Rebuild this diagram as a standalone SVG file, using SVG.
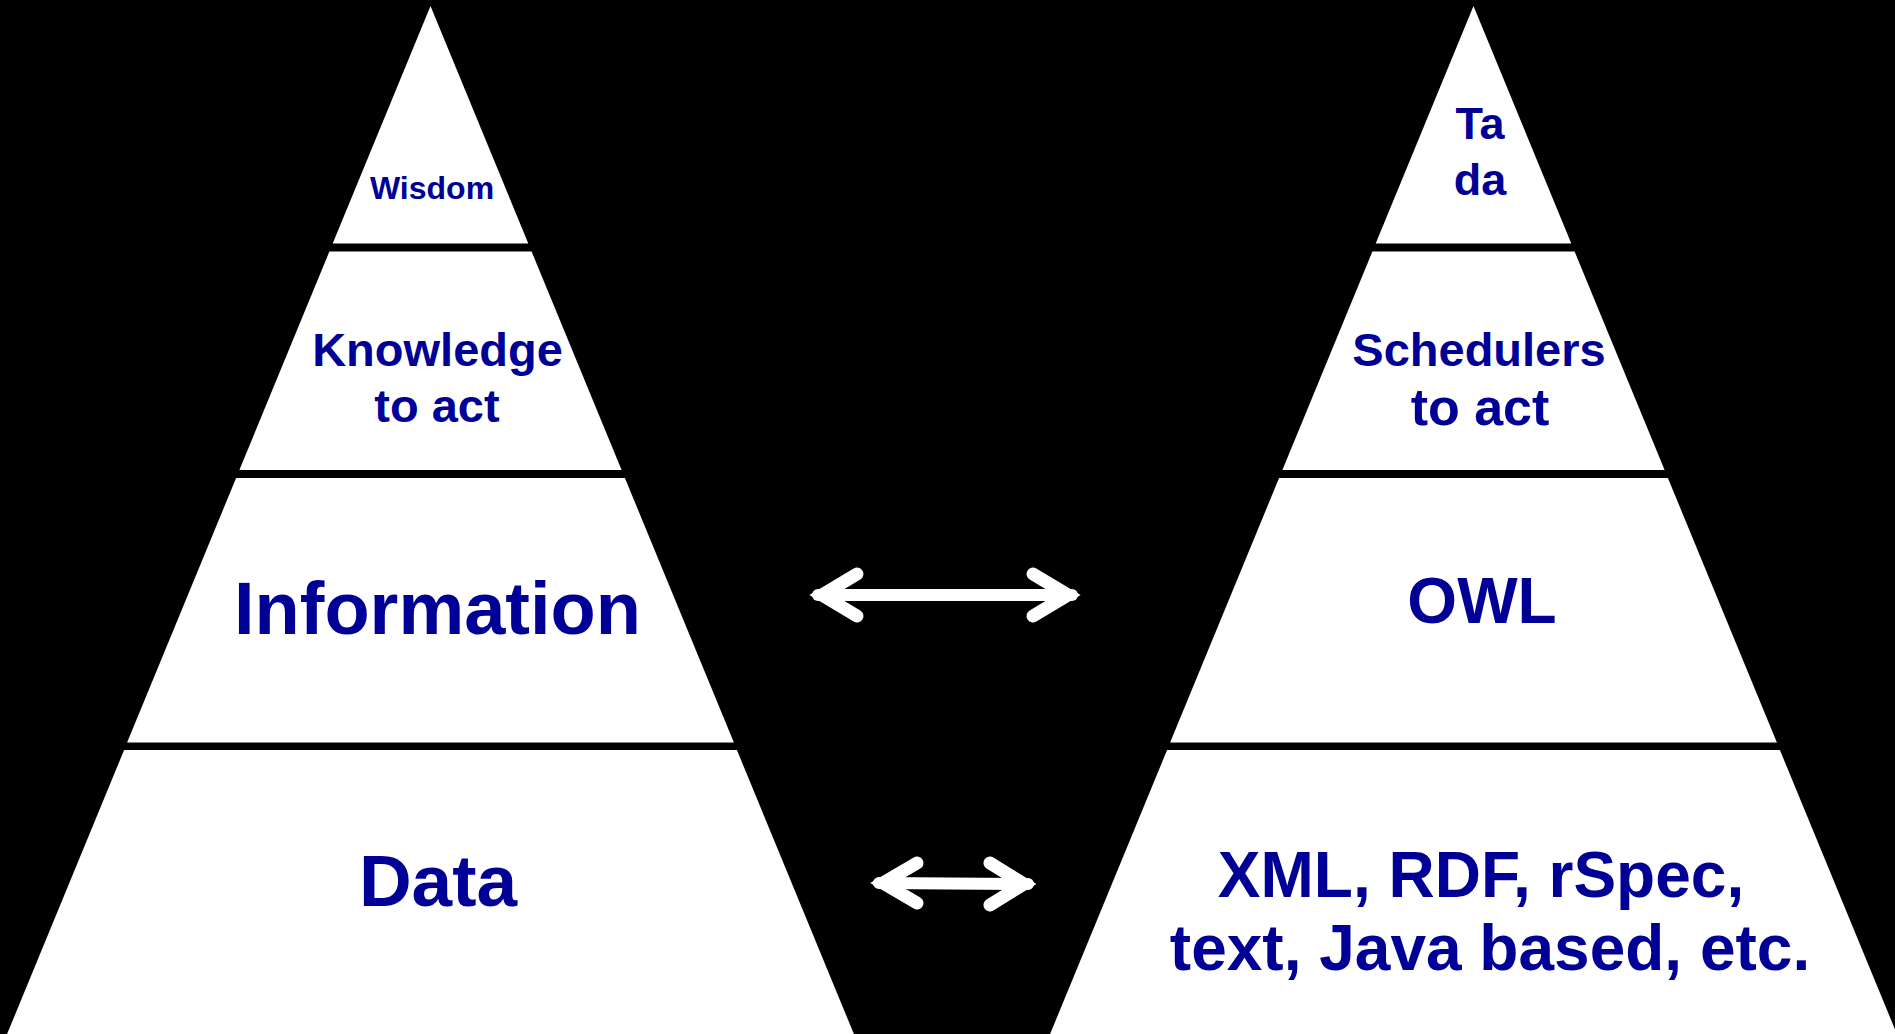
<svg xmlns="http://www.w3.org/2000/svg" width="1895" height="1034" viewBox="0 0 1895 1034">
  <style>
    .tier { fill: #ffffff; }
    .lbl { fill: #000096; font-family: "Liberation Sans", Arial, sans-serif; font-weight: bold; text-anchor: middle; }
    .arrow { fill: none; stroke: #ffffff; stroke-linecap: round; stroke-linejoin: miter; stroke-miterlimit: 6; }
  </style>
  <rect x="0" y="0" width="1895" height="1034" fill="#000000"/>

  <!-- Left pyramid: DIKW hierarchy -->
  <g id="wisdom">
    <polygon class="tier" points="430.5,6 528.3,243.5 332.7,243.5"/>
    <text class="lbl" x="432" y="199" font-size="32">Wisdom</text>
  </g>
  <g id="knowledge">
    <polygon class="tier" points="329.4,251.5 531.6,251.5 621.6,470 239.4,470"/>
    <text class="lbl" x="437.5" y="366" font-size="47">Knowledge</text>
    <text class="lbl" x="437" y="422" font-size="47">to act</text>
  </g>
  <g id="information">
    <polygon class="tier" points="236.1,478 624.9,478 733.9,742.5 127.1,742.5"/>
    <text class="lbl" x="437.5" y="634" font-size="74">Information</text>
  </g>
  <g id="data">
    <polygon class="tier" points="124.1,750 736.9,750 853.9,1034 7.1,1034"/>
    <text class="lbl" x="438" y="906" font-size="73">Data</text>
  </g>

  <!-- Right pyramid: technology stack -->
  <g id="tada">
    <polygon class="tier" points="1473.5,6 1571.3,243.5 1375.7,243.5"/>
    <text class="lbl" x="1480" y="139" font-size="45">Ta</text>
    <text class="lbl" x="1480" y="195" font-size="45">da</text>
  </g>
  <g id="schedulers">
    <polygon class="tier" points="1372.4,251.5 1574.6,251.5 1664.6,470 1282.4,470"/>
    <text class="lbl" x="1479" y="366" font-size="47">Schedulers</text>
    <text class="lbl" x="1480" y="425" font-size="52">to act</text>
  </g>
  <g id="owl">
    <polygon class="tier" points="1279.1,478 1667.9,478 1776.9,742.5 1170.1,742.5"/>
    <text class="lbl" x="1482" y="623" font-size="64">OWL</text>
  </g>
  <g id="formats">
    <polygon class="tier" points="1167.1,750 1779.9,750 1896.9,1034 1050.1,1034"/>
    <text class="lbl" x="1481" y="897" font-size="64">XML, RDF, rSpec,</text>
    <text class="lbl" x="1490" y="970" font-size="64">text, Java based, etc.</text>
  </g>

  <!-- Double-headed connectors between the tiers -->
  <g id="connectors">
    <g id="info-owl">
      <line class="arrow" x1="818" y1="595" x2="1072" y2="595" stroke-width="12" stroke-linecap="butt"/>
      <path class="arrow" d="M857,574 L822,595 L857,616" stroke-width="13"/>
      <path class="arrow" d="M1033,574 L1068,595 L1033,616" stroke-width="13"/>
    </g>
    <g id="data-formats">
      <line class="arrow" x1="879" y1="883" x2="1028" y2="884" stroke-width="12" stroke-linecap="butt"/>
      <path class="arrow" d="M917,863 L883,883 L917,903" stroke-width="13"/>
      <path class="arrow" d="M990,863 L1024,884 L990,905" stroke-width="13"/>
    </g>
  </g>
</svg>
